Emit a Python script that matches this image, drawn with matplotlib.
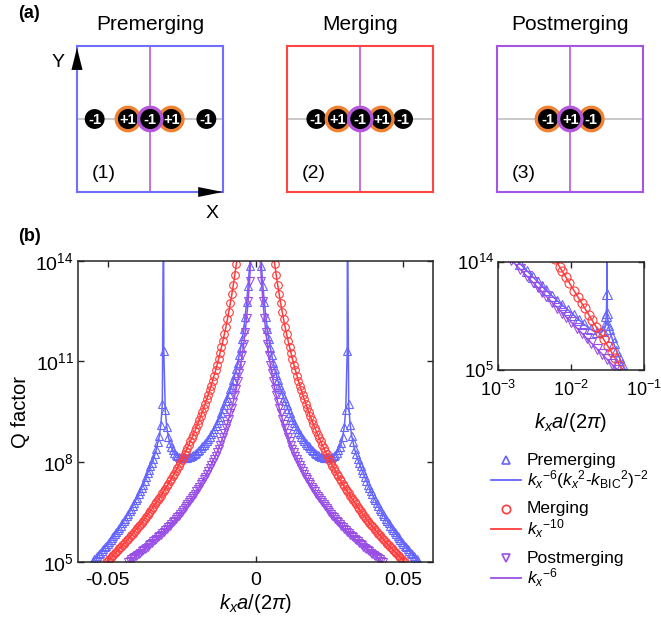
import numpy as np
import matplotlib
matplotlib.use('Agg')
import matplotlib.pyplot as plt
from matplotlib.patches import Circle, Polygon
from matplotlib.lines import Line2D

plt.rcParams['font.family'] = 'Liberation Sans'
plt.rcParams['mathtext.fontset'] = 'custom'
plt.rcParams['mathtext.rm'] = 'Liberation Sans'
plt.rcParams['mathtext.it'] = 'Liberation Sans:italic'
plt.rcParams['mathtext.bf'] = 'Liberation Sans:bold'
plt.rcParams['axes.unicode_minus'] = False

### Data (positive kx side; the curves are mirrored)
# kx*a/(2pi) in units of 1e-3
kx_milli = [1.5, 2.0, 2.5, 3.0, 3.5, 4.0, 4.5, 5.0, 5.5, 6.0,
            6.5, 7.0, 7.5, 8.0, 8.5, 9.0, 9.5, 10.0, 10.5, 11.0,
            11.5, 12.0, 12.5, 13.0, 13.5, 14.0, 14.5, 15.0, 15.5, 16.0,
            16.5, 17.0, 17.5, 18.0, 18.5, 19.0, 19.5, 20.0, 20.5, 21.0,
            21.5, 22.0, 22.5, 23.0, 23.5, 24.0, 24.5, 25.0, 25.5, 26.0,
            26.5, 27.0, 27.5, 28.0, 28.5, 29.0, 29.5, 30.0, 30.5, 31.0,
            31.5, 32.0, 32.5, 33.0, 33.5, 34.0, 34.5, 35.0, 35.5, 36.0,
            36.5, 37.0, 37.5, 38.0, 38.5, 39.0, 39.5, 40.0, 40.5, 41.0,
            41.5, 42.0, 42.5, 43.0, 43.5, 44.0, 44.5, 45.0, 45.5, 46.0,
            46.5, 47.0, 47.5, 48.0, 48.5, 49.0, 49.5, 50.0, 50.5, 51.0,
            51.5, 52.0, 52.5, 53.0, 53.5, 54.0, 54.5, 55.0]

# log10(Q) for each case (None = outside the plotted range)
logq_pre = [14.64, 13.86, 13.26, 12.76, 12.34, 11.97, 11.68, 11.41, 11.18, 10.96,
            10.77, 10.60, 10.44, 10.29, 10.16, 10.03, 9.91, 9.80, 9.68, 9.56,
            9.45, 9.34, 9.24, 9.16, 9.06, 8.98, 8.90, 8.82, 8.75, 8.69,
            8.62, 8.56, 8.50, 8.46, 8.40, 8.36, 8.31, 8.27, 8.24, 8.20,
            8.18, 8.15, 8.14, 8.12, 8.11, 8.10, 8.10, 8.11, 8.12, 8.14,
            8.17, 8.21, 8.27, 8.34, 8.44, 8.57, 8.75, 9.04, 9.53, 11.30,
            9.72, 9.10, 8.78, 8.58, 8.38, 8.22, 8.09, 7.97, 7.86, 7.75,
            7.65, 7.53, 7.42, 7.31, 7.21, 7.11, 7.02, 6.92, 6.84, 6.75,
            6.67, 6.59, 6.51, 6.44, 6.37, 6.30, 6.23, 6.16, 6.09, 6.03,
            5.96, 5.90, 5.84, 5.78, 5.72, 5.67, 5.61, 5.55, 5.49, 5.44,
            5.39, 5.33, 5.28, 5.23, 5.18, 5.13, 5.08, 5.03]

logq_mer = [None, None, None, None, None, None, None, None, None, 14.25,
            13.90, 13.58, 13.28, 13.00, 12.74, 12.49, 12.26, 12.03, 11.82, 11.62,
            11.43, 11.24, 11.06, 10.89, 10.73, 10.57, 10.42, 10.27, 10.13, 9.99,
            9.86, 9.73, 9.60, 9.48, 9.36, 9.25, 9.13, 9.02, 8.92, 8.81,
            8.71, 8.61, 8.51, 8.42, 8.32, 8.23, 8.14, 8.05, 7.97, 7.88,
            7.80, 7.72, 7.64, 7.56, 7.48, 7.41, 7.33, 7.26, 7.19, 7.12,
            7.05, 6.98, 6.91, 6.85, 6.78, 6.72, 6.65, 6.59, 6.53, 6.47,
            6.41, 6.35, 6.29, 6.23, 6.18, 6.12, 6.07, 6.01, 5.96, 5.90,
            5.85, 5.80, 5.75, 5.70, 5.65, 5.60, 5.55, 5.50, 5.45, 5.41,
            5.36, 5.31, 5.27, 5.22, 5.18, 5.13, 5.09, 5.04, 5.00, None,
            None, None, None, None, None, None, None, None]

logq_post = [14.19, 13.41, 12.80, 12.30, 11.88, 11.51, 11.19, 10.90, 10.64, 10.40,
             10.18, 9.98, 9.79, 9.61, 9.45, 9.29, 9.14, 9.00, 8.87, 8.74,
             8.62, 8.50, 8.39, 8.29, 8.18, 8.08, 7.99, 7.89, 7.80, 7.72,
             7.63, 7.55, 7.47, 7.40, 7.32, 7.25, 7.18, 7.11, 7.04, 6.97,
             6.91, 6.85, 6.79, 6.72, 6.67, 6.61, 6.55, 6.50, 6.44, 6.39,
             6.34, 6.29, 6.24, 6.19, 6.14, 6.09, 6.04, 6.00, 5.95, 5.91,
             5.86, 5.82, 5.78, 5.74, 5.70, 5.66, 5.62, 5.58, 5.54, 5.50,
             5.46, 5.42, 5.39, 5.35, 5.32, 5.28, 5.25, 5.21, 5.18, 5.14,
             5.11, 5.08, 5.04, 5.01, None, None, None, None, None, None,
             None, None, None, None, None, None, None, None, None, None,
             None, None, None, None, None, None, None, None]

# BIC position of the premerging fit (diverges there)
k_bic_milli = 31.07
logq_bic = 16.0

# schematic panels (a)
panel_titles = ['Premerging', 'Merging', 'Postmerging']
panel_tags = ['(1)', '(2)', '(3)']
charge_x = [[0.121, 0.349, 0.502, 0.646, 0.886],
            [0.201, 0.349, 0.502, 0.646, 0.795],
            [0.349, 0.502, 0.646]]
charge_lbl = [['-1', '+1', '-1', '+1', '-1'],
              ['-1', '+1', '-1', '+1', '-1'],
              ['-1', '+1', '-1']]
charge_ring = [[0, 1, 2, 1, 0], [0, 1, 2, 1, 0], [1, 2, 1]]  # 0 none, 1 orange, 2 purple

### Colours
c_pre = '#6565FF'
c_mer = '#FF3C3C'
c_post = '#9A50E6'
box_cols = ['#6E6EFF', '#FF4444', '#A555E6']
ring_cols = [None, '#EF8131', '#B457DA']
c_vline = '#C064DC'
c_hline = '#C4C4C4'
spine_col = '#262626'

fig = plt.figure(figsize=(6.61, 6.23), dpi=100)

## (a) schematic panels
panel_left = [77, 287, 497]
for i in range(3):
    ax = fig.add_axes([panel_left[i] / 661, 1 - 192 / 623, 146 / 661, 146 / 623])
    ax.set_xlim(0, 1)
    ax.set_ylim(0, 1)
    ax.set_xticks([])
    ax.set_yticks([])
    for s in ax.spines.values():
        s.set_color(box_cols[i])
        s.set_linewidth(1.5)
    ax.axhline(0.5, color=c_hline, lw=1.3, zorder=1)
    ax.axvline(0.5, color=c_vline, lw=1.3, zorder=1)
    order = sorted(range(len(charge_x[i])), key=lambda j: charge_ring[i][j])
    z = 2
    for j in order:
        x = charge_x[i][j]
        ring = charge_ring[i][j]
        if ring == 0:
            ax.add_patch(Circle((x, 0.5), 0.068, fc='black', ec='none', zorder=z))
        else:
            ax.add_patch(Circle((x, 0.5), 0.08, fc='black', ec=ring_cols[ring], lw=2.4, zorder=z))
        ax.text(x, 0.495, charge_lbl[i][j], color='white', fontweight='bold', fontsize=10.5,
                ha='center', va='center', zorder=z + 1)
        z += 2
    ax.text(0.5, 1.145, panel_titles[i], ha='center', va='center', fontsize=15)
    ax.text(0.18, 0.128, panel_tags[i], ha='center', va='center', fontsize=14)
    if i == 0:
        ax.add_patch(Polygon([(-0.038, 0.836), (0.038, 0.836), (0.0, 0.988)], closed=True,
                             fc='black', ec='none', transform=ax.transAxes, clip_on=False, zorder=20))
        ax.add_patch(Polygon([(0.83, -0.034), (0.83, 0.034), (1.0, 0.0)], closed=True,
                             fc='black', ec='none', transform=ax.transAxes, clip_on=False, zorder=20))
        ax.text(-0.13, 0.89, 'Y', ha='center', va='center', fontsize=14)
        ax.text(0.925, -0.144, 'X', ha='center', va='center', fontsize=14)

fig.text(18 / 661, 1 - 14 / 623, '(a)', fontweight='bold', fontsize=13, va='center')
fig.text(18 / 661, 1 - 237 / 623, '(b)', fontweight='bold', fontsize=13, va='center')

## (b) data
kx = np.array(kx_milli) * 1e-3
L_pre = np.array(logq_pre, dtype=float)
L_mer = np.array(logq_mer, dtype=float)
L_post = np.array(logq_post, dtype=float)

# fit line for premerging: data plus the divergence at k_BIC
k_fit = np.append(kx, k_bic_milli * 1e-3)
L_fit = np.append(L_pre, logq_bic)
srt = np.argsort(k_fit)
k_fit, L_fit = k_fit[srt], L_fit[srt]


def mirror(k, v):
    return np.concatenate([-k[::-1], k]), np.concatenate([v[::-1], v])


series = [(kx, L_pre, k_fit, L_fit, '^', c_pre),
          (kx, L_mer, kx, L_mer, 'o', c_mer),
          (kx, L_post, kx, L_post, 'v', c_post)]

def style_axes(ax, size):
    for s in ax.spines.values():
        s.set_color(spine_col)
        s.set_linewidth(1.1)
    ax.minorticks_off()
    ax.tick_params(which='both', direction='in', top=True, right=True, length=4,
                   width=1.0, color=spine_col, labelsize=size)

# main axes
ax = fig.add_axes([78 / 661, 1 - 562 / 623, 355 / 661, 301 / 623])
for k, L, kf, Lf, mk, col in series:
    x, y = mirror(k, 10 ** L)
    ax.plot(x, y, ls='none', marker=mk, mfc='none', mec=col, ms=5.5, mew=0.8)
    xf, yf = mirror(kf, 10 ** Lf)
    ax.plot(xf, yf, color=col, lw=1.1)
ax.set_yscale('log')
ax.set_xlim(-0.06, 0.06)
ax.set_ylim(1e5, 1e14)
ax.set_yticks([1e5, 1e8, 1e11, 1e14])
ax.set_xticks([-0.05, 0, 0.05])
ax.set_xticklabels(['-0.05', '0', '0.05'])
style_axes(ax, 14)
ax.tick_params(axis='x', pad=7)
ax.tick_params(axis='y', pad=3)
ax.set_xlabel(r'$k_xa/(2\pi)$', fontsize=14.5, va='center')
ax.xaxis.set_label_coords(0.5, -0.138)
ax.set_ylabel('Q factor', fontsize=14.5, va='center')
ax.yaxis.set_label_coords(-0.163, 0.5)

# inset log-log axes
ax2 = fig.add_axes([498 / 661, 1 - 370 / 623, 146 / 661, 108 / 623])
for k, L, kf, Lf, mk, col in series:
    ok = np.isfinite(L)
    ax2.plot(k[ok], 10 ** L[ok], ls='none', marker=mk, mfc='none', mec=col, ms=6.5, mew=0.8,
             markevery=0.04)
    okf = np.isfinite(Lf)
    ax2.plot(kf[okf], 10 ** Lf[okf], color=col, lw=1.1)
ax2.set_xscale('log')
ax2.set_yscale('log')
ax2.set_xlim(1e-3, 1e-1)
ax2.set_ylim(1e5, 1e14)
ax2.set_xticks([1e-3, 1e-2, 1e-1])
ax2.set_yticks([1e5, 1e14])
style_axes(ax2, 13.5)
ax2.tick_params(axis='x', pad=7, labelsize=13)
ax2.tick_params(axis='y', pad=3)
ax2.set_xlabel(r'$k_xa/(2\pi)$', fontsize=14.5, va='center')
ax2.xaxis.set_label_coords(0.5, -0.49)

## legend (three groups, marker row + fit row)
leg_rows = [(460, 480, '^', c_pre, 'Premerging',
             r'$k_x{}^{-6}(k_x{}^2$-$k_{\mathrm{BIC}}{}^2)^{-2}$'),
            (509, 529, 'o', c_mer, 'Merging', r'$k_x{}^{-10}$'),
            (558, 578, 'v', c_post, 'Postmerging', r'$k_x{}^{-6}$')]
for ym, yl, mk, col, lab1, lab2 in leg_rows:
    fy1 = 1 - ym / 623
    fy2 = 1 - yl / 623
    fig.add_artist(Line2D([506 / 661], [fy1], ls='none', marker=mk, mfc='none', mec=col,
                          ms=6, mew=1.2, transform=fig.transFigure))
    fig.add_artist(Line2D([491 / 661, 521 / 661], [fy2, fy2], color=col, lw=1.3,
                          transform=fig.transFigure))
    fig.text(527 / 661, fy1, lab1, fontsize=12.5, va='center')
    fig.text(527 / 661, fy2, lab2, fontsize=12.5, va='center')

fig.savefig('out.png', dpi=100)
